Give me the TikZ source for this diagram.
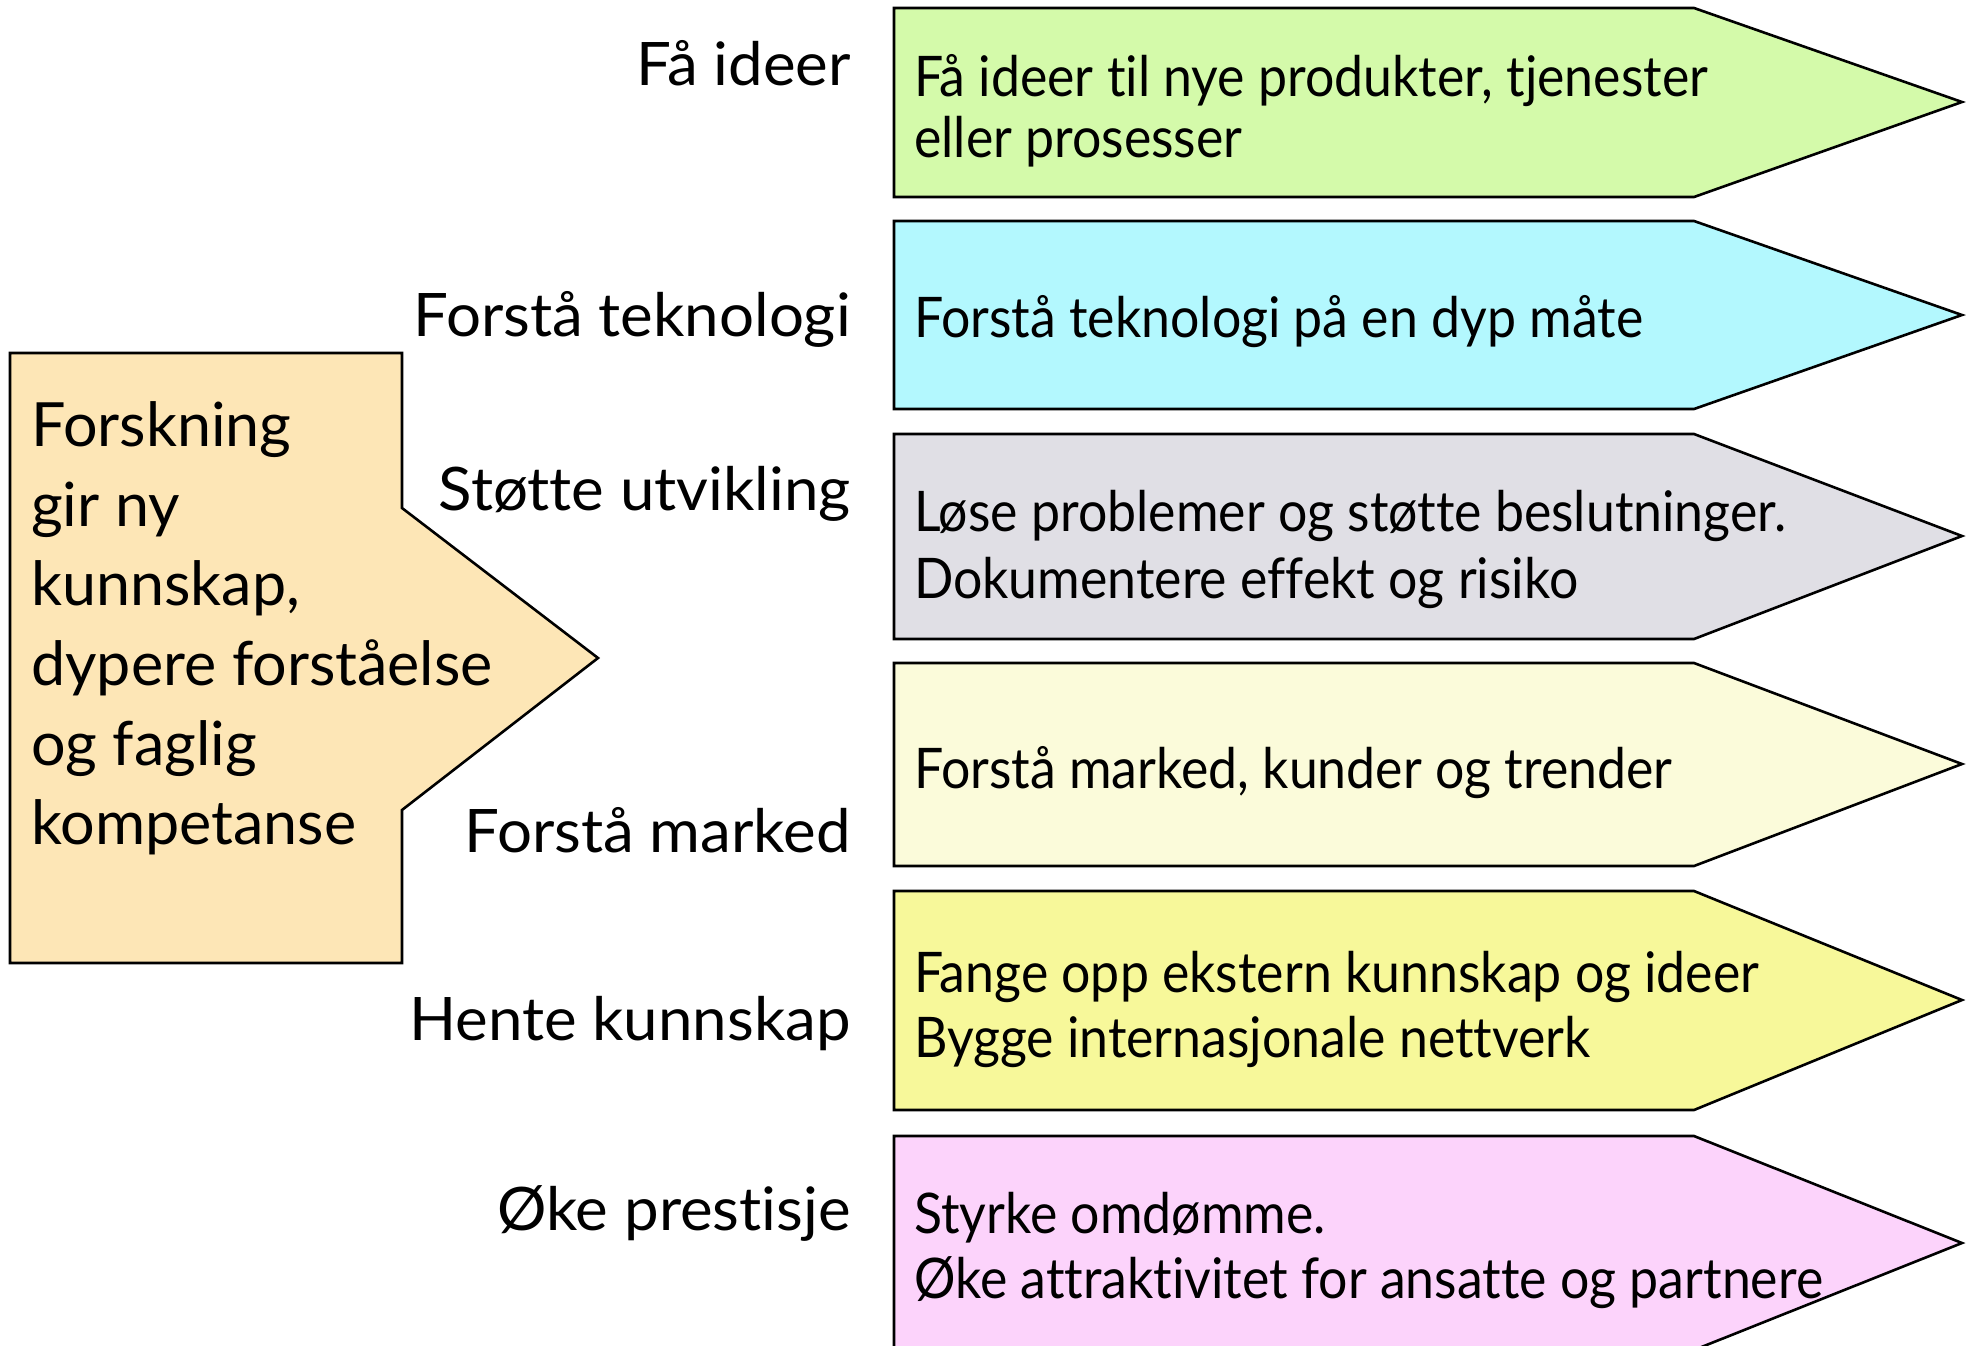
\documentclass[tikz,border=0pt]{standalone}
\usepackage{fontspec}
\setmainfont[Ligatures=NoCommon]{Lato}
\newfontfamily\condfont[FakeStretch=0.925,Ligatures=NoCommon]{Lato}
\newfontfamily\lblfont[FakeStretch=1.03,Ligatures=NoCommon]{Lato}
\definecolor{cOrange}{RGB}{253,230,182}
\definecolor{cGreen}{RGB}{212,250,170}
\definecolor{cCyan}{RGB}{179,248,254}
\definecolor{cGray}{RGB}{224,223,229}
\definecolor{cPale}{RGB}{251,251,218}
\definecolor{cYellow}{RGB}{247,248,154}
\definecolor{cPink}{RGB}{252,211,251}
\tikzset{
  shapeline/.style={draw=black, line width=2.6pt, line join=miter},
  bigtxt/.style={anchor=base west, inner sep=0pt, font=\fontsize{61}{72}\selectfont},
  lbltxt/.style={anchor=base east, inner sep=0pt, font=\lblfont\fontsize{60}{70}\selectfont},
  boxtxt/.style={anchor=base west, inner sep=0pt, font=\condfont\fontsize{56}{66}\selectfont},
}
\begin{document}
\begin{tikzpicture}[x=1pt,y=-1pt]
\useasboundingbox[fill=white] (0,0) rectangle (1968,1345);
% left source shape
\filldraw[shapeline, fill=cOrange] (10,353) -- (402,353) -- (402,508) -- (598,658) -- (402,810) -- (402,963) -- (10,963) -- cycle;
\node[bigtxt] (s1) at (31,446) {Forskning};
\node[bigtxt] (s2) at (31,526) {gir ny};
\node[bigtxt] (s3) at (31,605) {kunnskap,};
\node[bigtxt] (s4) at (31,685) {dypere forståelse};
\node[bigtxt] (s5) at (31,765) {og faglig};
\node[bigtxt] (s6) at (31,844) {kompetanse};
% right arrows
\begin{scope}
\clip (0,0) rectangle (1968,1345);
\filldraw[shapeline, fill=cGreen]  (894,8)   -- (1694,8)   -- (1962,102)  -- (1694,197)  -- (894,197)  -- cycle;
\filldraw[shapeline, fill=cCyan]   (894,221) -- (1694,221) -- (1962,315)  -- (1694,409)  -- (894,409)  -- cycle;
\filldraw[shapeline, fill=cGray]   (894,434) -- (1694,434) -- (1962,536)  -- (1694,639)  -- (894,639)  -- cycle;
\filldraw[shapeline, fill=cPale]   (894,663) -- (1694,663) -- (1962,764)  -- (1694,866)  -- (894,866)  -- cycle;
\filldraw[shapeline, fill=cYellow] (894,891) -- (1694,891) -- (1962,1000) -- (1694,1110) -- (894,1110) -- cycle;
\filldraw[shapeline, fill=cPink]   (894,1136) -- (1694,1136) -- (1962,1243) -- (1694,1350) -- (894,1350) -- cycle;
\end{scope}
% labels
\node[lbltxt] (l1) at (851,85)   {Få ideer};
\node[lbltxt] (l2) at (851,336)  {Forstå teknologi};
\node[lbltxt] (l3) at (851,510)  {Støtte utvikling};
\node[lbltxt] (l4) at (851,852)  {Forstå marked};
\node[lbltxt] (l5) at (851,1040) {Hente kunnskap};
\node[lbltxt] (l6) at (851,1230) {Øke prestisje};
% box texts
\node[boxtxt] (b1a) at (914,96)   {Få ideer til nye produkter, tjenester};
\node[boxtxt] (b1b) at (914,157)  {eller prosesser};
\node[boxtxt] (b2a) at (914,337)  {Forstå teknologi på en dyp måte};
\node[boxtxt] (b3a) at (914,531)  {Løse problemer og støtte beslutninger.};
\node[boxtxt] (b3b) at (914,598)  {Dokumentere effekt og risiko};
\node[boxtxt] (b4a) at (914,788)  {Forstå marked, kunder og trender};
\node[boxtxt] (b5a) at (914,992)  {Fange opp ekstern kunnskap og ideer};
\node[boxtxt] (b5b) at (914,1057) {Bygge internasjonale nettverk};
\node[boxtxt] (b6a) at (914,1233) {Styrke omdømme.};
\node[boxtxt] (b6b) at (914,1298) {Øke attraktivitet for ansatte og partnere};
\end{tikzpicture}
\end{document}
